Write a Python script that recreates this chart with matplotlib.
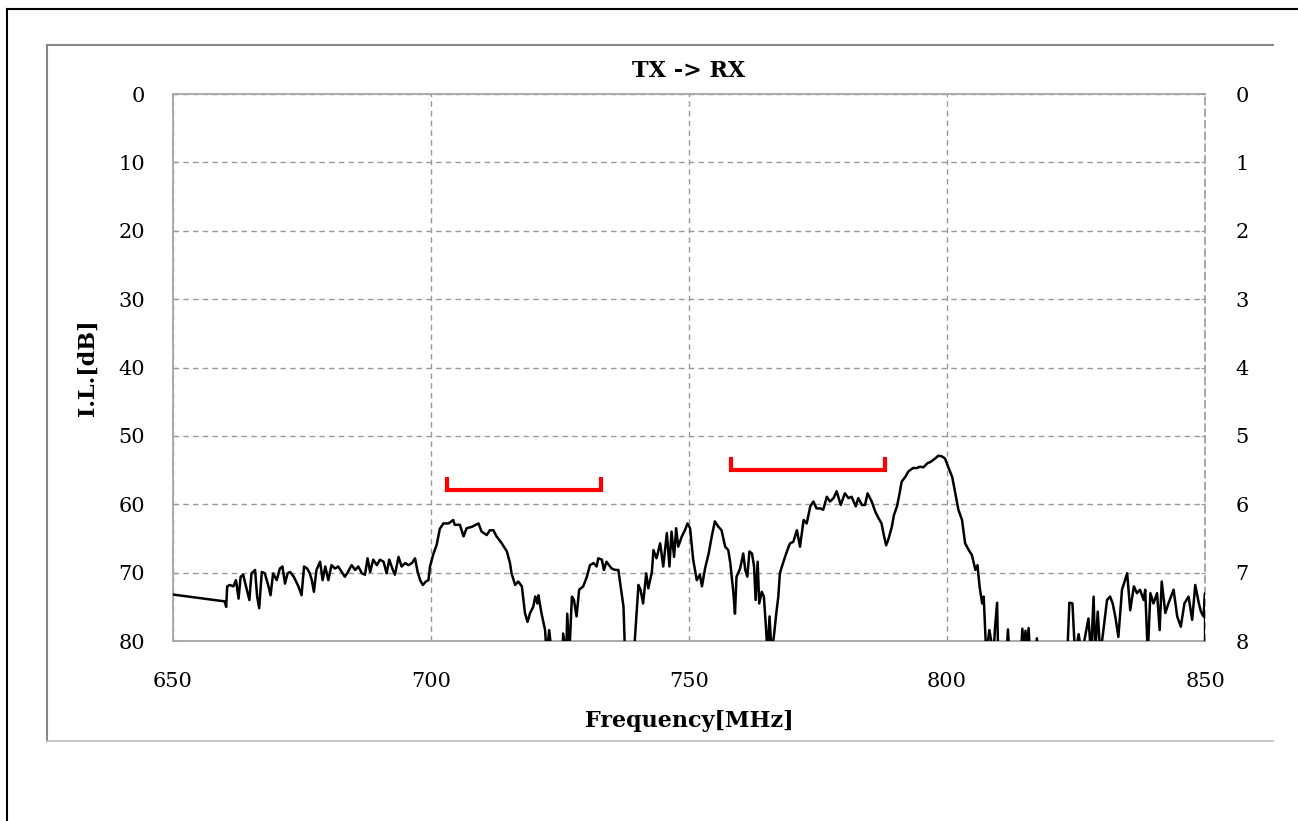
import matplotlib
matplotlib.use("Agg")
import matplotlib.pyplot as plt
from matplotlib.lines import Line2D

plt.rcParams.update({
    "font.family": "DejaVu Serif",
    "font.size": 15,
})

# TX -> RX insertion loss trace
freq = [
    650.0, 660.0, 660.3, 660.5, 661.0, 661.7, 662.2, 662.7, 663.1, 663.6,
    664.3, 664.8, 665.2, 665.9, 666.3, 666.7, 667.2, 667.8, 668.5, 668.9,
    669.4, 670.1, 670.7, 671.2, 671.7, 672.2, 672.7, 673.4, 674.3, 674.9,
    675.4, 676.0, 676.5, 676.9, 677.3, 677.8, 678.5, 679.0, 679.5, 680.1,
    680.7, 681.4, 682.0, 682.7, 683.3, 683.9, 684.6, 685.3, 685.9, 686.6,
    687.2, 687.7, 688.2, 688.8, 689.5, 690.1, 690.8, 691.4, 691.9, 692.6,
    693.0, 693.7, 694.3, 695.0, 695.6, 696.3, 696.9, 697.4, 697.9, 698.4,
    699.0, 699.5, 699.8, 700.4, 701.1, 701.7, 702.4, 703.4, 704.3, 704.6,
    705.6, 706.3, 706.9, 707.9, 709.2, 709.8, 710.8, 711.4, 712.1, 712.7,
    713.7, 714.7, 715.3, 715.6, 716.3, 716.9, 717.6, 718.2, 718.7, 719.2,
    719.8, 720.2, 720.6, 720.8, 721.4, 722.1, 722.4, 722.9, 723.4, 725.5,
    725.6, 726.2, 726.4, 726.8, 727.3, 727.7, 728.2, 728.7, 729.5, 730.2,
    730.8, 731.5, 732.1, 732.4, 733.1, 733.5, 734.0, 735.0, 735.7, 736.3,
    736.8, 737.3, 737.6, 739.3, 740.2, 740.6, 741.1, 741.7, 742.1, 742.8,
    743.1, 743.7, 744.4, 745.0, 745.7, 746.2, 746.6, 747.1, 747.5, 747.9,
    748.6, 749.2, 749.7, 750.2, 750.8, 751.5, 752.1, 752.5, 753.1, 753.8,
    754.4, 755.0, 755.7, 756.3, 757.0, 757.6, 758.0, 758.6, 758.9, 759.2,
    759.9, 760.5, 760.9, 761.3, 761.7, 762.2, 762.6, 762.9, 763.3, 763.6,
    764.1, 764.5, 764.9, 765.2, 765.6, 766.0, 766.5, 766.9, 767.3, 767.6,
    768.0, 768.6, 769.3, 769.6, 770.2, 770.9, 771.5, 772.2, 772.8, 773.5,
    774.1, 774.7, 775.4, 776.0, 776.7, 777.3, 778.0, 778.6, 779.4, 780.2,
    780.9, 781.5, 782.3, 782.8, 783.5, 784.1, 784.6, 785.4, 786.1, 786.7,
    787.3, 787.8, 788.2, 788.6, 789.3, 789.7, 790.3, 790.8, 791.2, 791.9,
    792.5, 793.4, 794.1, 794.8, 795.4, 796.2, 796.8, 797.7, 798.3, 799.0,
    799.6, 800.3, 801.0, 801.6, 802.2, 802.9, 803.5, 804.2, 804.8, 805.5,
    805.9, 806.3, 806.8, 807.1, 807.6, 808.2, 809.0, 809.3, 809.7, 809.9,
    810.5, 811.5, 811.8, 812.1, 814.3, 814.6, 814.9, 815.2, 815.5, 815.8,
    816.1, 817.2, 817.4, 817.7, 823.3, 823.7, 824.3, 824.8, 825.5, 826.1,
    827.4, 827.9, 828.4, 828.7, 829.2, 829.7, 830.3, 831.0, 831.6, 832.1,
    832.6, 833.2, 833.9, 834.9, 835.5, 836.2, 836.8, 837.4, 838.1, 838.4,
    838.9, 839.4, 840.0, 840.7, 841.2, 841.6, 842.3, 842.9, 843.9, 844.6,
    845.3, 846.0, 846.8, 847.5, 848.1, 848.8, 849.2, 849.7, 850.0, 850.0,
]
il_db = [
    73.2, 74.2, 75.0, 72.0, 71.8, 72.0, 71.1, 73.8, 70.6, 70.3,
    72.5, 74.0, 70.1, 69.6, 73.5, 75.2, 69.9, 70.1, 72.0, 73.3,
    70.1, 71.1, 69.4, 69.1, 71.6, 70.1, 69.9, 70.6, 72.0, 73.3,
    69.1, 69.4, 70.1, 71.1, 72.8, 69.6, 68.4, 71.1, 69.1, 71.1,
    68.9, 69.4, 69.1, 69.9, 70.6, 69.9, 68.9, 69.6, 69.1, 70.1,
    70.3, 67.9, 69.9, 68.1, 68.9, 68.1, 68.4, 70.1, 68.1, 69.6,
    70.3, 67.7, 69.1, 68.6, 68.9, 68.6, 67.9, 69.9, 71.1, 71.8,
    71.3, 71.1, 69.1, 67.4, 65.9, 63.6, 62.8, 62.8, 62.3, 63.0,
    63.0, 64.7, 63.5, 63.3, 62.8, 64.0, 64.5, 63.8, 63.8, 64.7,
    65.7, 66.9, 68.6, 70.1, 71.8, 71.3, 72.0, 75.9, 77.2, 75.9,
    75.0, 73.5, 74.5, 73.3, 75.9, 78.4, 82.0, 78.4, 82.0, 82.0,
    78.9, 82.0, 76.0, 82.0, 73.5, 74.0, 76.4, 72.5, 72.0, 70.6,
    68.9, 68.6, 69.1, 67.9, 68.1, 69.6, 68.4, 69.4, 69.6, 69.6,
    72.3, 75.0, 82.0, 82.0, 71.8, 72.5, 74.5, 70.1, 72.3, 69.9,
    66.7, 67.9, 65.7, 69.1, 64.2, 69.1, 64.0, 67.7, 63.5, 66.2,
    64.7, 63.8, 62.8, 63.5, 68.1, 71.1, 70.3, 72.0, 69.4, 67.2,
    64.7, 62.5, 63.3, 63.8, 66.2, 66.7, 68.6, 73.0, 76.0, 70.6,
    69.4, 67.2, 69.6, 70.6, 66.9, 67.2, 69.1, 74.0, 68.4, 74.5,
    72.8, 73.5, 77.9, 82.0, 76.4, 82.0, 78.9, 76.0, 73.5, 70.1,
    69.1, 67.7, 66.2, 65.7, 65.5, 63.8, 66.2, 62.3, 62.8, 60.3,
    59.6, 60.6, 60.6, 60.8, 58.9, 59.6, 59.1, 58.1, 60.1, 58.4,
    59.1, 58.9, 60.3, 59.1, 60.1, 60.1, 58.4, 59.6, 61.1, 62.0,
    62.8, 64.7, 66.0, 65.2, 63.3, 61.6, 60.3, 58.4, 56.7, 56.0,
    55.2, 54.7, 54.7, 54.5, 54.6, 54.0, 53.8, 53.3, 52.9, 53.0,
    53.3, 54.7, 56.0, 58.4, 60.8, 62.3, 65.7, 66.7, 67.4, 69.6,
    68.9, 72.0, 74.5, 73.5, 82.0, 78.4, 82.0, 78.0, 74.4, 82.0,
    82.0, 82.0, 78.3, 82.0, 82.0, 78.2, 82.0, 78.5, 82.0, 78.1,
    82.0, 82.0, 79.6, 82.0, 82.0, 74.4, 74.5, 82.0, 79.0, 82.0,
    76.7, 82.0, 73.5, 82.0, 75.7, 82.0, 78.4, 74.0, 73.5, 74.5,
    76.4, 79.4, 72.5, 70.1, 75.5, 72.0, 73.0, 72.5, 74.0, 72.5,
    82.0, 73.0, 74.5, 73.0, 78.4, 71.3, 75.9, 74.5, 72.5, 76.4,
    77.9, 74.5, 73.5, 76.9, 71.8, 74.5, 75.7, 76.4, 73.0, 82.0,
]

# red bracket markers for the two pass bands
band_start = [703.1, 758.1]
band_stop = [733.0, 788.0]
band_level = [57.9, 55.0]
band_tip = [56.0, 53.1]

x_ticks = [650, 700, 750, 800, 850]
y_ticks = [0, 10, 20, 30, 40, 50, 60, 70, 80]
y2_ticks = [0, 1, 2, 3, 4, 5, 6, 7, 8]

fig = plt.figure(figsize=(12.98, 8.21), dpi=100)

# outer black frame (clipped at right/bottom) and inner grey chart frame
fig.add_artist(Line2D([0.0054, 1.0], [0.989, 0.989], color="black", lw=1.5))
fig.add_artist(Line2D([0.0054, 0.0054], [0.0, 0.989], color="black", lw=1.5))
fig.add_artist(Line2D([0.0362, 0.981], [0.9452, 0.9452], color="#888888", lw=1.5))
fig.add_artist(Line2D([0.0362, 0.0362], [0.0974, 0.9452], color="#888888", lw=1.5))
fig.add_artist(Line2D([0.0362, 0.981], [0.0974, 0.0974], color="#bbbbbb", lw=1.2))

ax = fig.add_axes([0.1333, 0.2192, 0.7951, 0.6663])
ax.plot(freq, il_db, color="black", lw=1.8, zorder=3)
for x0, x1, lv, tp in zip(band_start, band_stop, band_level, band_tip):
    ax.plot([x0, x0, x1, x1], [tp, lv, lv, tp], color="#ff0000", lw=3,
            solid_joinstyle="miter", solid_capstyle="butt", zorder=4)

ax.set_xlim(650, 850)
ax.set_ylim(80, 0)
ax.set_xticks(x_ticks)
ax.set_yticks(y_ticks)
ax.set_axisbelow(True)
ax.grid(True, color="#999999", ls=(0, (4, 3)), lw=1.0)
ax.tick_params(axis="both", direction="in", length=3, color="#999999",
               labelsize=15, pad=20)
ax.tick_params(axis="x", pad=22)
for side in ["left", "bottom", "top"]:
    ax.spines[side].set_color("#aaaaaa")
    ax.spines[side].set_linewidth(1.4)
    ax.spines[side].set_zorder(2.6)
ax.spines["right"].set_color("#999999")
ax.spines["right"].set_linestyle((0, (4, 3)))
ax.spines["right"].set_linewidth(1.2)

ax2 = ax.twinx()
ax2.set_ylim(8, 0)
ax2.set_yticks(y2_ticks)
ax2.tick_params(axis="y", direction="in", length=3, color="#999999",
                labelsize=15, pad=22)
for side in ax2.spines:
    ax2.spines[side].set_visible(False)

ax.set_xlabel("Frequency[MHz]", fontsize=16, fontweight="bold", labelpad=14)
ax.set_ylabel("I.L.[dB]", fontsize=16, fontweight="bold", labelpad=14)
ax.set_title("TX -> RX", fontsize=16, fontweight="bold", pad=12)

fig.savefig("out.png", dpi=100)
